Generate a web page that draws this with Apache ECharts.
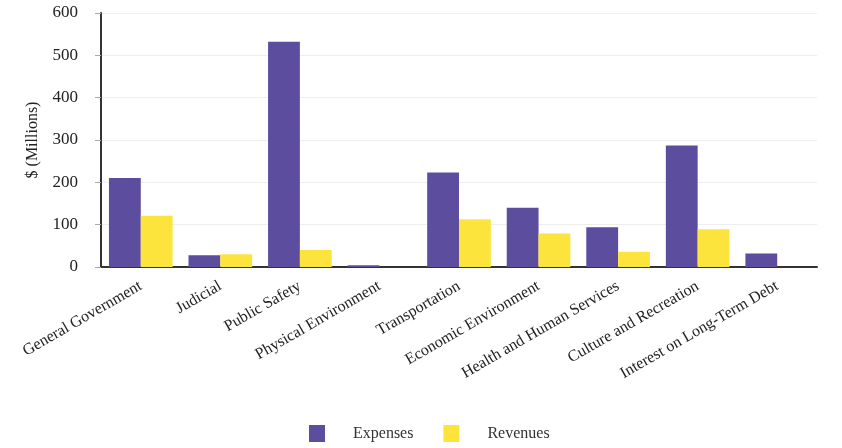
<!DOCTYPE html>
<html>
<head>
<meta charset="utf-8">
<script src="https://cdn.jsdelivr.net/npm/echarts@6/dist/echarts.min.js"></script>
<style>
  html, body { margin: 0; padding: 0; background: #fff; }
  #chart { width: 842px; height: 448px; }
</style>
</head>
<body>
<div id="chart"></div>
<script>
const categories = [
  "General Government", "Judicial", "Public Safety", "Physical Environment",
  "Transportation", "Economic Environment", "Health and Human Services",
  "Culture and Recreation", "Interest on Long-Term Debt"
];
const expenses = [210, 28, 532, 4, 223, 140, 94, 287, 32];
const revenues = [121, 30, 40, 0, 113, 79, 36, 89, 0];
const yTicks = [0, 100, 200, 300, 400, 500, 600];

const font = "Liberation Serif";

const chart = echarts.init(document.getElementById("chart"));
chart.setOption({
  animation: false,
  textStyle: { fontFamily: font },
  grid: { left: 101, right: 25, top: 13, bottom: 181 },
  legend: {
    bottom: 1,
    left: 304,
    icon: "rect",
    itemWidth: 16,
    itemHeight: 17,
    itemGap: 30,
    textStyle: { fontFamily: font, fontSize: 16, color: "#333", padding: [0, 0, 0, 23] },
    data: ["Expenses", "Revenues"]
  },
  xAxis: {
    type: "category",
    data: categories,
    axisLine: { lineStyle: { color: "#333", width: 2 } },
    axisTick: { alignWithLabel: true, length: 7, lineStyle: { color: "#aaa" } },
    axisLabel: { rotate: 30, fontSize: 16, fontFamily: font, color: "#222", margin: 18, interval: 0 }
  },
  yAxis: {
    type: "value",
    min: 0,
    max: 600,
    interval: 100,
    name: "$ (Millions)",
    nameLocation: "middle",
    nameGap: 60,
    nameTextStyle: { fontFamily: font, fontSize: 16, color: "#222" },
    axisLine: { show: true, lineStyle: { color: "#333", width: 2 } },
    axisTick: { show: true, length: 6, lineStyle: { color: "#aaa" } },
    axisLabel: {
      fontSize: 17, fontFamily: font, color: "#222", margin: 23,
      formatter: v => yTicks.includes(v) ? String(v) : ""
    },
    splitLine: { lineStyle: { color: "#eeeeee" } }
  },
  series: [
    {
      name: "Expenses", type: "bar", data: expenses,
      barGap: "0%", barCategoryGap: "20%",
      itemStyle: { color: "#5c4d9e" }
    },
    {
      name: "Revenues", type: "bar", data: revenues,
      itemStyle: { color: "#fde43c" }
    }
  ]
});
</script>
</body>
</html>
